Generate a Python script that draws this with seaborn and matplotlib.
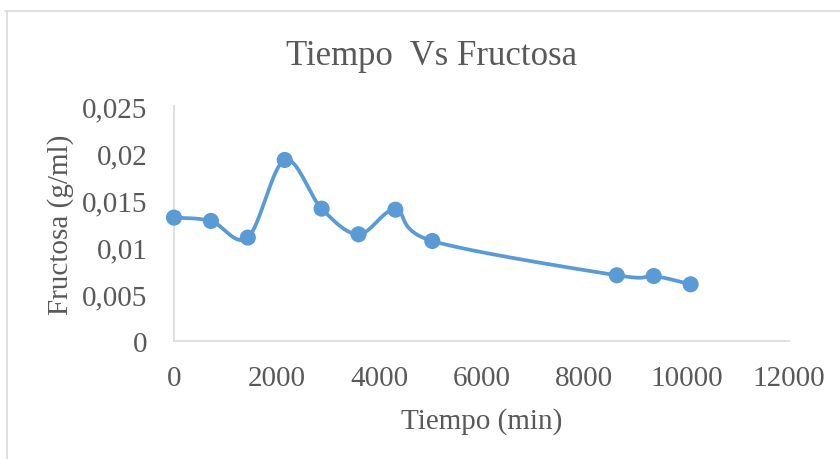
import numpy as np
import pandas as pd
import matplotlib
matplotlib.use("Agg")
import matplotlib.pyplot as plt
from matplotlib.lines import Line2D
import seaborn as sns

# Data
tiempo = [0, 720, 1440, 2160, 2880, 3600, 4320, 5040, 8640, 9360, 10080]
fructosa = [0.01313, 0.01277, 0.01100, 0.01926, 0.01408, 0.01135,
            0.01397, 0.01064, 0.00699, 0.00691, 0.00603]
x_ticks = [0, 2000, 4000, 6000, 8000, 10000, 12000]
y_ticks = [0, 0.005, 0.01, 0.015, 0.02, 0.025]
y_tick_labels = ["0", "0,005", "0,01", "0,015", "0,02", "0,025"]
title = "Tiempo  Vs Fructosa"
xlabel = "Tiempo (min)"
ylabel = "Fructosa (g/ml)"

sns.set_style("white")
plt.rcParams["font.family"] = ["Liberation Serif", "DejaVu Serif"]

COLOR = "#5B9BD5"
TXT = "#595959"
GRID = "#D9D9D9"


def excel_smooth(xs, ys, n=40):
    """Catmull-Rom style Bezier smoothing (like Excel's smoothed line)."""
    xs = np.asarray(xs, float)
    ys = np.asarray(ys, float)
    pts = np.column_stack([xs, ys])
    out = []
    for i in range(len(pts) - 1):
        p0 = pts[i - 1] if i > 0 else pts[i]
        p1 = pts[i]
        p2 = pts[i + 1]
        p3 = pts[i + 2] if i + 2 < len(pts) else pts[i + 1]
        c1 = p1 + (p2 - p0) / 6.0
        c2 = p2 - (p3 - p1) / 6.0
        t = np.linspace(0, 1, n)[:, None]
        seg = ((1 - t) ** 3) * p1 + 3 * ((1 - t) ** 2) * t * c1 + 3 * (1 - t) * t ** 2 * c2 + t ** 3 * p2
        if i > 0:
            seg = seg[1:]
        out.append(seg)
    out = np.vstack(out)
    return out[:, 0], out[:, 1]


fig = plt.figure(figsize=(8.4, 4.6), dpi=100)
ax = fig.add_axes([174 / 840, 1 - 342 / 460, (789 - 174) / 840, (342 - 107) / 460])

# Smooth in display-proportional units
sx, sy = excel_smooth(np.array(tiempo) / 12000 * 615, np.array(fructosa) / 0.025 * 235)
curve = pd.DataFrame({"t": sx / 615 * 12000, "f": sy / 235 * 0.025})
sns.lineplot(data=curve, x="t", y="f", ax=ax, color=COLOR, linewidth=2.7,
             sort=False, estimator=None, zorder=2)
pts = pd.DataFrame({"t": tiempo, "f": fructosa})
sns.scatterplot(data=pts, x="t", y="f", ax=ax, color=COLOR, s=135,
                edgecolor="none", zorder=3, clip_on=False)

ax.set_xlim(0, 12000)
ax.set_ylim(0, 0.025)
ax.set_xticks(x_ticks)
ax.set_xticklabels([str(v) for v in x_ticks])
ax.set_yticks(y_ticks)
ax.set_yticklabels(y_tick_labels)
ax.tick_params(axis="both", length=0, labelsize=21, labelcolor=TXT)
ax.tick_params(axis="x", pad=17)
ax.tick_params(axis="y", pad=19)
for s in ["top", "right"]:
    ax.spines[s].set_visible(False)
for s in ["left", "bottom"]:
    ax.spines[s].set_color(GRID)
    ax.spines[s].set_linewidth(1.2)

ax.set_xlabel(xlabel, fontsize=21, color=TXT)
ax.set_ylabel(ylabel, fontsize=21, color=TXT)
ax.xaxis.set_label_coords(0.5, -0.281)
ax.yaxis.set_label_coords(-0.162, 0.5)
fig.text(432 / 840, 1 - 65 / 460, title, ha="center", va="baseline",
         fontsize=25, color=TXT)

# Chart area border (top and left visible)
fig.add_artist(Line2D([5 / 840, 1], [1 - 12 / 460, 1 - 12 / 460],
                      transform=fig.transFigure, color=GRID, linewidth=1.2))
fig.add_artist(Line2D([7 / 840, 7 / 840], [0, 1 - 12 / 460],
                      transform=fig.transFigure, color=GRID, linewidth=1.2))

fig.savefig("out.png", dpi=100, facecolor="white")
